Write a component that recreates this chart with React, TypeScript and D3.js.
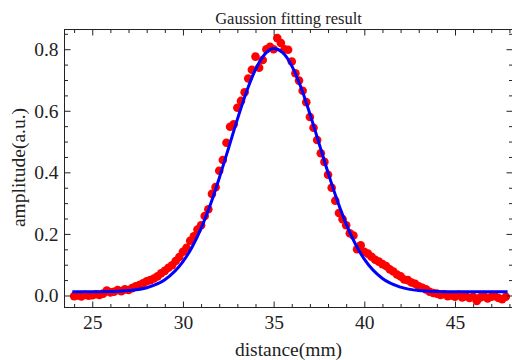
import React, { useEffect, useRef } from 'react';
import * as d3 from 'd3';

// measured profile (red dots)
const distance = [
  24.0, 24.2, 24.4, 24.6, 24.8, 25.0, 25.2, 25.4, 25.6, 25.8,
  26.0, 26.2, 26.4, 26.6, 26.8, 27.0, 27.2, 27.4, 27.6, 27.8,
  28.0, 28.2, 28.4, 28.6, 28.8, 29.0, 29.2, 29.4, 29.6, 29.8,
  30.0, 30.2, 30.4, 30.6, 30.8, 31.0, 31.2, 31.4, 31.6, 31.8,
  32.0, 32.2, 32.4, 32.6, 32.8, 33.0, 33.2, 33.4, 33.6, 33.8,
  34.0, 34.2, 34.4, 34.6, 34.8, 35.0, 35.2, 35.4, 35.6, 35.8,
  36.0, 36.2, 36.4, 36.6, 36.8, 37.0, 37.2, 37.4, 37.6, 37.8,
  38.0, 38.2, 38.4, 38.6, 38.8, 39.0, 39.2, 39.4, 39.6, 39.8,
  40.0, 40.2, 40.4, 40.6, 40.8, 41.0, 41.2, 41.4, 41.6, 41.8,
  42.0, 42.2, 42.4, 42.6, 42.8, 43.0, 43.2, 43.4, 43.6, 43.8,
  44.0, 44.2, 44.4, 44.6, 44.8, 45.0, 45.2, 45.4, 45.6, 45.8,
  46.0, 46.2, 46.4, 46.6, 46.8, 47.0, 47.2, 47.4, 47.6, 47.8,
];
const amplitude = [
  -0.002, 0.0, -0.003, 0.002, -0.001, 0.001, 0.004, 0.002, 0.006, 0.016,
  0.01, 0.012, 0.018, 0.014, 0.02, 0.018, 0.024, 0.03, 0.034, 0.04,
  0.046, 0.05, 0.055, 0.062, 0.072, 0.08, 0.09, 0.098, 0.112, 0.125,
  0.142, 0.155, 0.178, 0.192, 0.214, 0.228, 0.258, 0.28, 0.33, 0.352,
  0.405, 0.44, 0.496, 0.548, 0.556, 0.61, 0.632, 0.66, 0.705, 0.733,
  0.776, 0.74, 0.765, 0.8, 0.808, 0.8, 0.836, 0.82, 0.8, 0.798,
  0.76, 0.722, 0.698, 0.665, 0.628, 0.58, 0.545, 0.505, 0.462, 0.434,
  0.392, 0.35, 0.308, 0.268, 0.248, 0.228, 0.202, 0.195, 0.15, 0.163,
  0.142, 0.136, 0.126, 0.116, 0.11, 0.102, 0.096, 0.085, 0.078, 0.068,
  0.062, 0.052, 0.05, 0.042, 0.038, 0.03, 0.025, 0.02, 0.012, 0.008,
  0.006, 0.002, 0.004, -0.002, 0.0, -0.004, 0.002, -0.006, -0.002, -0.008,
  -0.004, -0.018, -0.006, -0.002, -0.01, -0.004, -0.002, -0.008, -0.012, -0.004,
];

// gaussian fit (blue line)
const fitDistance = [
  23.9, 25, 26, 27, 28, 29, 30, 30.5, 31, 31.5, 32, 32.5, 33, 33.5, 34, 34.5,
  35, 35.5, 36, 36.5, 37, 37.5, 38, 38.5, 39, 39.5, 40, 41, 42, 43, 44, 45, 46, 47, 47.9,
];
const fitAmplitude = [
  0.012, 0.012, 0.013, 0.016, 0.025, 0.051, 0.11, 0.157, 0.218, 0.293, 0.381, 0.476, 0.572, 0.661, 0.734, 0.783,
  0.802, 0.789, 0.746, 0.677, 0.59, 0.495, 0.399, 0.31, 0.232, 0.168, 0.118, 0.055, 0.027, 0.016, 0.013, 0.012, 0.012, 0.012, 0.012,
];

const xMajorTicks = [25, 30, 35, 40, 45];
const xMinorTicks = [24, 26, 27, 28, 29, 31, 32, 33, 34, 36, 37, 38, 39, 41, 42, 43, 44, 46, 47, 48];
const yMajorTicks = [0, 0.2, 0.4, 0.6, 0.8];
const yMinorTicks = [0.05, 0.1, 0.15, 0.25, 0.3, 0.35, 0.45, 0.5, 0.55, 0.65, 0.7, 0.75, 0.85];

const title = 'Gaussion fitting result';
const xLabel = 'distance(mm)';
const yLabel = 'amplitude(a.u.)';

const W = 512;
const H = 360;
const left = 64.5;
const right = 512.5;
const top = 29.5;
const bottom = 307.5;
const font = '"Liberation Serif", "Times New Roman", serif';
const ink = '#222';

const App = () => {
  const ref = useRef<SVGSVGElement>(null);

  useEffect(() => {
    const svg = d3.select(ref.current);
    svg.selectAll('*').remove();

    const x = d3.scaleLinear().domain([23.47, 48.17]).range([left, right]);
    const y = d3.scaleLinear().domain([-0.039, 0.864]).range([bottom, top]);

    // points
    const pts = distance.map((d, i) => ({ d, a: amplitude[i] }));
    svg
      .append('g')
      .selectAll('circle')
      .data(pts)
      .enter()
      .append('circle')
      .attr('cx', (p) => x(p.d))
      .attr('cy', (p) => y(p.a))
      .attr('r', 4.3)
      .attr('fill', '#ff0000');

    // fit curve
    const fit = fitDistance.map((d, i) => [d, fitAmplitude[i]] as [number, number]);
    const line = d3
      .line<[number, number]>()
      .x((p) => x(p[0]))
      .y((p) => y(p[1]))
      .curve(d3.curveMonotoneX);
    svg
      .append('path')
      .attr('d', line(fit))
      .attr('fill', 'none')
      .attr('stroke', '#0000ff')
      .attr('stroke-width', 3);

    // ticks, pointing inwards on all four sides
    const addAxis = (axis, transform, labels) => {
      const g = svg.append('g').attr('transform', transform).call(axis);
      g.select('.domain').remove();
      g.selectAll('line').attr('stroke', ink);
      g.selectAll('text')
        .attr('font-family', font)
        .attr('font-size', 19.5)
        .attr('fill', ink);
      if (!labels) g.selectAll('text').remove();
    };
    const noLabel = () => '';

    addAxis(d3.axisBottom(x).tickValues(xMajorTicks).tickSize(-6).tickSizeOuter(0).tickPadding(8).tickFormat(d3.format('d')), `translate(0,${bottom})`, true);
    addAxis(d3.axisBottom(x).tickValues(xMinorTicks).tickSize(-3.5).tickSizeOuter(0).tickFormat(noLabel), `translate(0,${bottom})`, false);
    addAxis(d3.axisTop(x).tickValues(xMajorTicks).tickSize(-6).tickSizeOuter(0).tickFormat(noLabel), `translate(0,${top})`, false);
    addAxis(d3.axisTop(x).tickValues(xMinorTicks).tickSize(-3.5).tickSizeOuter(0).tickFormat(noLabel), `translate(0,${top})`, false);

    addAxis(d3.axisLeft(y).tickValues(yMajorTicks).tickSize(-6).tickSizeOuter(0).tickPadding(6).tickFormat(d3.format('.1f')), `translate(${left},0)`, true);
    addAxis(d3.axisLeft(y).tickValues(yMinorTicks).tickSize(-3.5).tickSizeOuter(0).tickFormat(noLabel), `translate(${left},0)`, false);
    addAxis(d3.axisRight(y).tickValues(yMajorTicks).tickSize(-6).tickSizeOuter(0).tickFormat(noLabel), `translate(${right},0)`, false);
    addAxis(d3.axisRight(y).tickValues(yMinorTicks).tickSize(-3.5).tickSizeOuter(0).tickFormat(noLabel), `translate(${right},0)`, false);

    // frame
    svg
      .append('rect')
      .attr('x', left)
      .attr('y', top)
      .attr('width', right - left)
      .attr('height', bottom - top)
      .attr('fill', 'none')
      .attr('stroke', ink);

    // titles
    svg
      .append('text')
      .attr('x', 288.5)
      .attr('y', 24)
      .attr('text-anchor', 'middle')
      .attr('font-family', font)
      .attr('font-size', 16.5)
      .attr('fill', ink)
      .text(title);

    svg
      .append('text')
      .attr('x', (left + right) / 2)
      .attr('y', 356)
      .attr('text-anchor', 'middle')
      .attr('font-family', font)
      .attr('font-size', 19.5)
      .attr('fill', ink)
      .text(xLabel);

    svg
      .append('text')
      .attr('transform', `translate(25,${(top + bottom) / 2 - 1}) rotate(-90)`)
      .attr('text-anchor', 'middle')
      .attr('font-family', font)
      .attr('font-size', 19.5)
      .attr('fill', ink)
      .text(yLabel);
  }, []);

  return (
    <svg
      ref={ref}
      width={W}
      height={H}
      style={{ position: 'absolute', left: 0, top: 0, background: '#fff' }}
    ></svg>
  );
};

export default App;
